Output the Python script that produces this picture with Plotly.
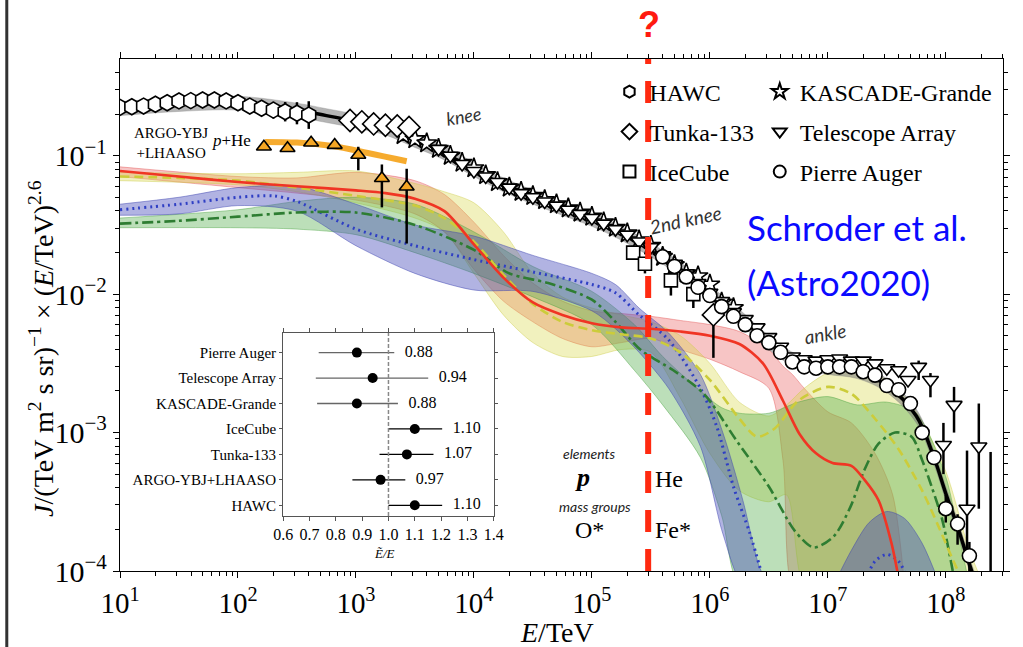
import plotly.graph_objects as go

# ---------------- data (log10(E/TeV), log10 flux) ----------------
ALL_logE = [1.0,1.5,2.0,2.5,2.75,3.0,3.25,3.5,3.75,4.0,4.25,4.5,4.75,5.0,5.25,5.5,5.75,6.0,6.25,6.5,6.75,7.0,7.25,7.5,7.75,7.9,8.0,8.1,8.2,8.26]
ALL_logJ = [-0.66,-0.63,-0.62,-0.67,-0.71,-0.75,-0.80,-0.89,-0.98,-1.10,-1.21,-1.30,-1.38,-1.46,-1.56,-1.68,-1.82,-1.99,-2.16,-2.35,-2.49,-2.53,-2.56,-2.66,-2.88,-3.18,-3.44,-3.68,-3.95,-4.10]
ALL_BAND_DEX = 0.05

# proton
P_logE = [1.0,1.5,2.0,2.5,3.0,3.25,3.5,3.75,4.0,4.25,4.5,4.75,5.0,5.25,5.5,5.75,6.0,6.25,6.45,6.62,6.76,6.9,7.04,7.2,7.31,7.43,7.54,7.6]
P_mid  = [-1.11,-1.15,-1.19,-1.22,-1.25,-1.27,-1.31,-1.40,-1.64,-1.88,-2.06,-2.15,-2.21,-2.24,-2.25,-2.27,-2.30,-2.36,-2.50,-2.77,-3.01,-3.15,-3.22,-3.24,-3.34,-3.49,-3.80,-4.05]
PB_logE = [1.0,2.0,2.5,3.0,3.5,3.75,4.0,4.25,4.5,4.75,5.0,5.25,5.5,5.75,6.0,6.25,6.5,6.62,6.7,6.8,7.0,7.2,7.4,7.55,7.65]
PB_lo = [-1.15,-1.23,-1.27,-1.32,-1.42,-1.55,-1.82,-2.05,-2.20,-2.32,-2.38,-2.35,-2.32,-2.40,-2.47,-2.56,-2.68,-3.20,-4.10,-4.10,-4.10,-4.10,-4.10,-4.10,-4.10]
PB_hi = [-1.08,-1.15,-1.16,-1.12,-1.18,-1.28,-1.48,-1.72,-1.92,-2.05,-2.12,-2.14,-2.16,-2.19,-2.22,-2.27,-2.40,-2.52,-2.58,-2.68,-2.85,-2.93,-3.15,-3.45,-4.10]

# helium
HE_logE = [1.0,1.5,2.0,2.5,3.0,3.5,3.75,4.0,4.25,4.5,4.75,5.0,5.25,5.5,5.75,6.0,6.25,6.4,6.55,6.75,7.0,7.2,7.4,7.6,7.8,7.95,8.05,8.13]
HE_mid  = [-1.15,-1.16,-1.18,-1.23,-1.29,-1.36,-1.45,-1.62,-1.86,-2.07,-2.20,-2.26,-2.29,-2.32,-2.42,-2.62,-2.90,-3.03,-2.97,-2.77,-2.67,-2.72,-2.90,-3.12,-3.42,-3.70,-3.90,-4.05]
HEB_logE = [1.0,2.0,2.5,3.0,3.5,3.75,4.0,4.25,4.5,4.75,5.0,5.25,5.5,5.75,6.0,6.25,6.5,6.65,6.8,7.0,7.25,7.5,7.75,8.0,8.2,8.32]
HEB_hi = [-1.12,-1.13,-1.12,-1.11,-1.20,-1.26,-1.34,-1.55,-1.85,-2.02,-2.10,-2.15,-2.20,-2.30,-2.50,-2.78,-2.88,-2.80,-2.68,-2.57,-2.55,-2.62,-2.85,-3.28,-3.85,-4.10]
HEB_lo = [-1.18,-1.21,-1.26,-1.34,-1.45,-1.55,-1.85,-2.15,-2.35,-2.45,-2.45,-2.40,-2.42,-2.75,-3.15,-3.42,-3.50,-3.45,-4.10,-4.10,-4.10,-4.10,-4.10,-4.10,-4.10,-4.10]

# O* mass group
O_logE = [1.0,1.5,2.0,2.5,3.0,3.5,4.0,4.3,4.63,5.0,5.19,5.41,5.69,5.95,6.22,6.5,6.72,6.88,7.05,7.19,7.31,7.43,7.57,7.71,7.8,7.88,7.97,8.03,8.07]
O_mid  = [-1.49,-1.47,-1.44,-1.41,-1.41,-1.50,-1.68,-1.85,-1.92,-2.04,-2.19,-2.40,-2.55,-2.72,-3.05,-3.39,-3.71,-3.83,-3.75,-3.54,-3.27,-3.08,-3.00,-3.03,-3.20,-3.39,-3.63,-3.87,-4.05]
OB_logE = [1.0,2.0,2.5,3.0,3.5,4.0,4.5,5.0,5.36,5.6,5.92,6.1,6.25,6.5,6.75,7.0,7.25,7.5,7.75,8.0,8.1,8.2]
OB_hi = [-1.45,-1.39,-1.33,-1.30,-1.35,-1.55,-1.80,-1.98,-2.22,-2.45,-2.70,-2.82,-2.86,-2.86,-2.78,-2.74,-2.80,-2.78,-2.86,-3.32,-3.70,-4.10]
OB_lo = [-1.52,-1.52,-1.53,-1.57,-1.70,-1.85,-2.02,-2.22,-2.55,-2.80,-3.18,-3.60,-4.10,-4.10,-4.10,-4.10,-4.10,-4.10,-4.10,-4.10,-4.10,-4.10]

# Fe* mass group
FE_logE = [1.0,1.5,2.0,2.3,2.5,3.0,3.5,4.0,4.5,5.0,5.2,5.4,5.65,5.92,6.06,6.2,6.34,6.45]
FE_mid  = [-1.39,-1.35,-1.30,-1.29,-1.33,-1.53,-1.65,-1.75,-1.84,-1.93,-1.99,-2.15,-2.33,-2.68,-2.96,-3.39,-3.73,-4.05]
FEB_logE = [1.0,1.5,2.0,2.5,3.0,3.5,4.0,4.5,5.0,5.2,5.4,5.65,5.92,6.11,6.28,6.42,6.5]
FEB_hi = [-1.35,-1.30,-1.23,-1.22,-1.35,-1.50,-1.58,-1.72,-1.85,-1.93,-2.10,-2.28,-2.58,-3.00,-3.49,-3.97,-4.10]
FEB_lo = [-1.43,-1.42,-1.36,-1.40,-1.65,-1.85,-1.97,-1.98,-2.12,-2.25,-2.42,-2.68,-3.10,-3.73,-4.10,-4.10,-4.10]
FE2_logE = [7.3,7.4,7.5,7.6,7.7]
FE2_mid  = [-4.10,-3.93,-3.88,-3.93,-4.10]
FE2B_logE = [7.05,7.2,7.35,7.5,7.65,7.8,7.95]
FE2B_hi = [-4.10,-3.85,-3.65,-3.57,-3.62,-3.80,-4.10]
FE2B_lo = [-4.10,-4.10,-4.10,-4.10,-4.10,-4.10,-4.10]

# experiments
HAWC_logE = [1.0,1.1,1.2,1.3,1.4,1.5,1.6,1.7,1.8,1.9,2.0,2.1,2.2,2.3,2.4,2.5,2.6]
HAWC_logJ = [-0.650,-0.646,-0.641,-0.628,-0.617,-0.604,-0.602,-0.597,-0.597,-0.604,-0.617,-0.641,-0.657,-0.670,-0.682,-0.693,-0.706]
HAWC_err  = [0.05,0.04,0.04,0.04,0.04,0.03,0.03,0.03,0.03,0.03,0.04,0.05,0.05,0.06,0.07,0.08,0.10]

AL_logE = [2.22,2.42,2.62,2.82,3.02,3.22,3.43]
AL_logJ = [-0.935,-0.946,-0.906,-0.923,-0.995,-1.163,-1.224]
AL_up   = [0.02,0.02,0.02,0.02,0.06,0.10,0.13]
AL_dn   = [0.02,0.02,0.02,0.02,0.11,0.21,0.41]
LF_logE = [2.23,2.5,2.8,3.1,3.43]
LF_logJ = [-0.90,-0.905,-0.93,-0.98,-1.04]

TK_logE = [2.95,3.05,3.15,3.25,3.35,3.45,6.03]
TK_logJ = [-0.745,-0.755,-0.770,-0.780,-0.785,-0.795,-2.15]
TK_up   = [0,0,0,0,0,0,0.05]
TK_dn   = [0,0,0,0,0,0,0.31]

KG_logE = [3.4,3.5,3.6,3.7,3.8,3.9,4.0,4.1,4.2,4.3,4.4,4.5,4.6,4.7,4.8,4.9,5.0,5.1,5.2,5.3,5.4,5.5,5.6,5.7,5.8,5.9,6.0,6.1,6.2]
KG_logJ = [-0.85,-0.88,-0.91,-0.95,-1.00,-1.05,-1.09,-1.14,-1.19,-1.23,-1.26,-1.29,-1.32,-1.35,-1.38,-1.41,-1.44,-1.48,-1.52,-1.56,-1.61,-1.65,-1.73,-1.79,-1.85,-1.87,-1.93,-2.06,-2.10]

TA_logE = [3.7,3.8,3.9,4.0,4.1,4.2,4.3,4.4,4.5,4.6,4.7,4.8,4.9,5.0,5.1,5.2,5.3,5.4,5.5,5.6,5.7,5.8,5.9,6.0,6.1,6.2,6.3,6.4,6.5,6.6,6.7,6.8,6.9,7.0,7.1,7.2,7.3,7.4,7.5,7.6,7.68,7.77,7.87,7.98,8.07,8.18,8.28,8.38]
TA_logJ = [-0.95,-1.00,-1.06,-1.11,-1.15,-1.19,-1.23,-1.27,-1.30,-1.33,-1.36,-1.39,-1.42,-1.45,-1.49,-1.53,-1.57,-1.62,-1.66,-1.72,-1.78,-1.85,-1.92,-1.99,-2.05,-2.13,-2.18,-2.24,-2.31,-2.38,-2.45,-2.47,-2.48,-2.47,-2.465,-2.48,-2.48,-2.50,-2.535,-2.55,-2.62,-2.525,-2.62,-3.09,-2.80,-3.55,-3.10,-4.30]
TA_up = [0]*40 + [0,0.045,0.05,0.16,0.13,0.42,0.31,1.16]
TA_dn = [0]*40 + [0,0.095,0.125,0.21,0.20,0.30,0.45,0.0]

IC_logE = [5.35,5.45,5.67,5.86]
IC_logJ = [-1.70,-1.78,-1.90,-2.00]
IC_dn   = [0.05,0.07,0.11,0.10]

AU_logE = [5.6,5.7,5.8,5.9,6.0,6.1,6.2,6.3,6.4,6.5,6.6,6.7,6.8,6.9,7.0,7.1,7.2,7.3,7.4,7.5,7.6,7.7,7.8,7.9,8.0,8.1,8.2]
AU_logJ = [-1.73,-1.80,-1.875,-1.95,-2.01,-2.09,-2.16,-2.22,-2.30,-2.35,-2.42,-2.49,-2.525,-2.535,-2.525,-2.525,-2.525,-2.56,-2.585,-2.66,-2.69,-2.79,-3.00,-3.18,-3.55,-3.66,-3.89]
AU_up = [0]*24 + [0.10,0.07,0.10]
AU_dn = [0]*24 + [0.10,0.15,0.20]

KNEE2_E = 3e5

# inset: energy-scale factors
INSET_names = ["Pierre Auger","Telescope Array","KASCADE-Grande","IceCube","Tunka-133","ARGO-YBJ+LHAASO","HAWC"]
INSET_val = [0.88,0.94,0.88,1.10,1.07,0.97,1.10]
INSET_lo  = [0.735,0.724,0.729,1.0,0.966,0.863,1.0]
INSET_hi  = [1.022,1.151,1.036,1.204,1.171,1.064,1.204]

# ---------------- helpers ----------------
def lin(a):
    return [10 ** v for v in a]

def errs(lj, up, dn):
    p = [10 ** (v + u) - 10 ** v for v, u in zip(lj, up)]
    m = [10 ** v - 10 ** (v - d) for v, d in zip(lj, dn)]
    return p, m

W, H = 1023, 647
L, R, T, B = 120, 10, 59, 76
PW, PH = W - L - R, H - T - B
def px(x):
    return (x - L) / PW
def py(y):
    return (H - B - y) / PH

SERIF = "Liberation Serif"
SANS = "Lato"

fig = go.Figure()

def band(xs, lo, hi, fill, edge):
    fig.add_trace(go.Scatter(x=lin(xs), y=lin(lo), mode="lines",
                             line=dict(color=edge, width=0.8, shape="spline", smoothing=0.8),
                             showlegend=False, hoverinfo="skip"))
    fig.add_trace(go.Scatter(x=lin(xs), y=lin(hi), mode="lines", fill="tonexty", fillcolor=fill,
                             line=dict(color=edge, width=0.8, shape="spline", smoothing=0.8),
                             showlegend=False, hoverinfo="skip"))

band(PB_logE, PB_lo, PB_hi, "rgba(232,80,80,0.33)", "rgba(225,70,70,0.5)")
band(HEB_logE, HEB_lo, HEB_hi, "rgba(215,215,70,0.35)", "rgba(200,200,60,0.5)")
band(OB_logE, OB_lo, OB_hi, "rgba(80,170,70,0.38)", "rgba(70,160,60,0.55)")
band(FEB_logE, FEB_lo, FEB_hi, "rgba(70,75,185,0.42)", "rgba(60,65,175,0.6)")
band(FE2B_logE, FE2B_lo, FE2B_hi, "rgba(70,75,185,0.42)", "rgba(60,65,175,0.6)")

def cline(xs, ys, color, dash, width=2.6):
    fig.add_trace(go.Scatter(x=lin(xs), y=lin(ys), mode="lines",
                             line=dict(color=color, width=width, dash=dash, shape="spline", smoothing=0.8),
                             showlegend=False, hoverinfo="skip"))

cline(FE_logE, FE_mid, "#2f3fc4", "2px,4px", 3)
cline(FE2_logE, FE2_mid, "#2f3fc4", "2px,4px", 3)
cline(O_logE, O_mid, "#2e7d32", "11px,4px,3px,4px")
cline(HE_logE, HE_mid, "#cccc3a", "9px,5px")
cline(P_logE, P_mid, "#f03524", "solid")

# all-particle band + line
fig.add_trace(go.Scatter(x=lin(ALL_logE), y=lin([v - ALL_BAND_DEX for v in ALL_logJ]), mode="lines",
                         line=dict(color="rgba(120,120,120,0.6)", width=0.5, shape="spline"),
                         showlegend=False, hoverinfo="skip"))
fig.add_trace(go.Scatter(x=lin(ALL_logE), y=lin([v + ALL_BAND_DEX for v in ALL_logJ]), mode="lines",
                         fill="tonexty", fillcolor="rgba(120,120,120,0.55)",
                         line=dict(color="rgba(120,120,120,0.6)", width=0.5, shape="spline"),
                         showlegend=False, hoverinfo="skip"))
fig.add_trace(go.Scatter(x=lin(ALL_logE), y=lin(ALL_logJ), mode="lines",
                         line=dict(color="black", width=3.5, shape="spline"),
                         showlegend=False, hoverinfo="skip"))

# LHAASO fit line
fig.add_trace(go.Scatter(x=lin(LF_logE), y=lin(LF_logJ), mode="lines",
                         line=dict(color="rgba(245,166,35,0.95)", width=6, shape="spline"),
                         showlegend=False, hoverinfo="skip"))

def exp_trace(name, xs, ys, symbol, size, up=None, dn=None, legend=None, fill="white"):
    kw = {}
    if up is not None:
        p, m = errs(ys, up, dn)
        kw["error_y"] = dict(type="data", symmetric=False, array=p, arrayminus=m,
                             color="black", thickness=2.5, width=0)
    if legend is not None:
        kw["legend"] = legend
    fig.add_trace(go.Scatter(x=lin(xs), y=lin(ys), mode="markers", name=name,
                             marker=dict(symbol=symbol, size=size, color=fill,
                                         line=dict(color="black", width=1.6)),
                             showlegend=legend is not None, hoverinfo="skip", **kw))

exp_trace("HAWC", HAWC_logE, HAWC_logJ, "hexagon", 16, HAWC_err, HAWC_err, legend="legend")
exp_trace("ARGO-YBJ+LHAASO", AL_logE, AL_logJ, "triangle-up", 13, AL_up, AL_dn, fill="#f5a623")
exp_trace("KASCADE-Grande", KG_logE, KG_logJ, "star", 15, legend="legend2")
exp_trace("Telescope Array", TA_logE, TA_logJ, "triangle-down", 14, TA_up, TA_dn, legend="legend4")
exp_trace("IceCube", IC_logE, IC_logJ, "square", 13, [0] * len(IC_dn), IC_dn, legend="legend5")
exp_trace("Tunka-133", TK_logE, TK_logJ, "diamond", 17, TK_up, TK_dn, legend="legend3")
exp_trace("Pierre Auger", AU_logE, AU_logJ, "circle", 14, AU_up, AU_dn, legend="legend6")

# red dashed line (drawn above the markers, as in the picture)
fig.add_trace(go.Scatter(x=[KNEE2_E, KNEE2_E], y=[10 ** -4, 10 ** -0.301], mode="lines",
                         line=dict(color="#ff2a10", width=6, dash="22px,17px"),
                         showlegend=False, hoverinfo="skip"))

# ---------------- inset ----------------
rows = list(range(len(INSET_names) - 1, -1, -1))
gray_idx = [0, 1, 2]
blk_idx = [3, 4, 5, 6]
for idxs, col in ((gray_idx, "#666666"), (blk_idx, "black")):
    fig.add_trace(go.Scatter(
        x=[INSET_val[i] for i in idxs], y=[rows[i] for i in idxs], mode="markers",
        marker=dict(color="black", size=10),
        error_x=dict(type="data", symmetric=False,
                     array=[INSET_hi[i] - INSET_val[i] for i in idxs],
                     arrayminus=[INSET_val[i] - INSET_lo[i] for i in idxs],
                     color=col, thickness=1.3, width=0),
        xaxis="x2", yaxis="y2", showlegend=False, hoverinfo="skip"))
fig.add_trace(go.Scatter(x=[1.0, 1.0], y=[-0.42, 6.77], mode="lines",
                         line=dict(color="#888888", width=1.5, dash="4px,2px"),
                         xaxis="x2", yaxis="y2", showlegend=False, hoverinfo="skip"))
fig.add_trace(go.Scatter(x=[h + 0.04 for h in INSET_hi], y=rows, mode="text",
                         text=["%.2f" % v for v in INSET_val], textposition="middle right",
                         textfont=dict(family=SERIF, size=16, color="black"),
                         xaxis="x2", yaxis="y2", showlegend=False, hoverinfo="skip"))

# ---------------- layout ----------------
xmaj = [10 ** k for k in range(1, 9)]
xmin = [m * 10 ** d for d in range(1, 9) for m in range(2, 10) if m * 10 ** d < 3.1e8]
ymaj = [10 ** k for k in range(-4, 0)]
ymin = [m * 10.0 ** d for d in range(-4, 0) for m in range(2, 10) if m * 10.0 ** d < 0.5]

axis_common = dict(showline=True, linecolor="black", linewidth=1.3, mirror="ticks",
                   ticks="outside", ticklen=6, tickwidth=1.2, tickcolor="black",
                   showgrid=False, zeroline=False)

def leg(xp, yp):
    return dict(x=px(xp), y=py(yp), xanchor="left", yanchor="middle",
                bgcolor="rgba(0,0,0,0)", borderwidth=0,
                font=dict(family=SERIF, size=24, color="black"), itemsizing="constant")

fig.update_layout(
    width=W, height=H, autosize=False,
    margin=dict(l=L, r=R, t=T, b=B),
    paper_bgcolor="white", plot_bgcolor="white",
    font=dict(family=SERIF, color="black"),
    xaxis=dict(type="log", range=[1, 8.485], tickvals=xmaj,
               ticktext=["10<sup>%d</sup>" % k for k in range(1, 9)],
               tickfont=dict(family=SERIF, size=29, color="black"),
               minor=dict(tickmode="array", tickvals=xmin, ticks="outside", ticklen=4,
                          tickcolor="black", showgrid=False),
               **axis_common),
    yaxis=dict(type="log", range=[-4, -0.301], tickvals=ymaj,
               ticktext=["10<sup>\u2212%d</sup>" % k for k in (4, 3, 2, 1)],
               tickfont=dict(family=SERIF, size=30, color="black"),
               minor=dict(tickmode="array", tickvals=ymin, ticks="outside", ticklen=4,
                          tickcolor="black", showgrid=False),
               **axis_common),
    xaxis2=dict(domain=[px(285), px(498)], anchor="y2", range=[0.6, 1.4],
                tickvals=[0.6, 0.7, 0.8, 0.9, 1.0, 1.1, 1.2, 1.3, 1.4],
                ticktext=["0.6", "0.7", "0.8", "0.9", "1.0", "1.1", "1.2", "1.3", "1.4"],
                showline=True, linecolor="#555555", linewidth=1.2, mirror="ticks",
                ticks="outside", ticklen=4, tickcolor="#555555", showgrid=False, zeroline=False,
                tickfont=dict(family=SERIF, size=16, color="black")),
    yaxis2=dict(domain=[py(516), py(333)], anchor="x2", range=[-0.42, 6.77],
                tickvals=rows, ticktext=INSET_names,
                showline=True, linecolor="#555555", linewidth=1.2, mirror="ticks",
                ticks="outside", ticklen=3, tickcolor="#555555", showgrid=False, zeroline=False,
                tickfont=dict(family=SERIF, size=15, color="black")),
    legend=leg(615, 92), legend2=leg(767, 92),
    legend3=leg(615, 132), legend4=leg(767, 132),
    legend5=leg(615, 172), legend6=leg(767, 172),
    showlegend=True,
)

ann = []
def A(text, x, y, size, family=SERIF, color="black", angle=0, xanchor="center", yanchor="middle"):
    ann.append(dict(text=text, x=px(x), y=py(y), xref="paper", yref="paper", showarrow=False,
                    font=dict(family=family, size=size, color=color), textangle=angle,
                    xanchor=xanchor, yanchor=yanchor))

A("<i>J</i>/(TeV m<sup>2</sup> s sr)<sup>\u22121</sup> \u00d7 (<i>E</i>/TeV)<sup>2.6</sup>", 40, 348, 28, angle=-90)
A("<i>E</i>/TeV", 562, 632, 28)
A("<i>knee</i>", 467, 116, 18, family=SANS, color="#333333", angle=-10)
A("<i>2nd knee</i>", 692, 219, 19, family=SANS, color="#333333", angle=-12)
A("<i>ankle</i>", 833, 333, 19, family=SANS, color="#333333", angle=-10)
A("Schroder et al.", 752, 227, 35, family=SANS, color="#0a0aff", xanchor="left")
A("(Astro2020)", 752, 282, 35, family=SANS, color="#0a0aff", xanchor="left")
A("<b>?</b>", 655, 24, 36, family="Liberation Sans", color="#ff1a10")
A("ARGO-YBJ<br>+LHAASO", 172, 143, 15)
A("<i>p</i>+He", 233, 140, 17)
A("<i>elements</i>", 595, 453, 14, family=SANS, color="#222222")
A("<b><i>p</i></b>", 588, 477, 26)
A("<i>mass groups</i>", 600, 506, 14, family=SANS, color="#222222")
A("O*", 595, 530, 24)
A("He", 659, 479, 24, xanchor="left")
A("Fe*", 659, 530, 24, xanchor="left")
A("<i>\u1ebc/E</i>", 388, 553, 13)

fig.update_layout(annotations=ann)
fig.add_shape(type="line", xref="paper", yref="paper", x0=px(5.5), x1=px(5.5), y0=-0.2, y1=1.2,
              line=dict(color="#333333", width=3))

fig.write_html("out.html")
